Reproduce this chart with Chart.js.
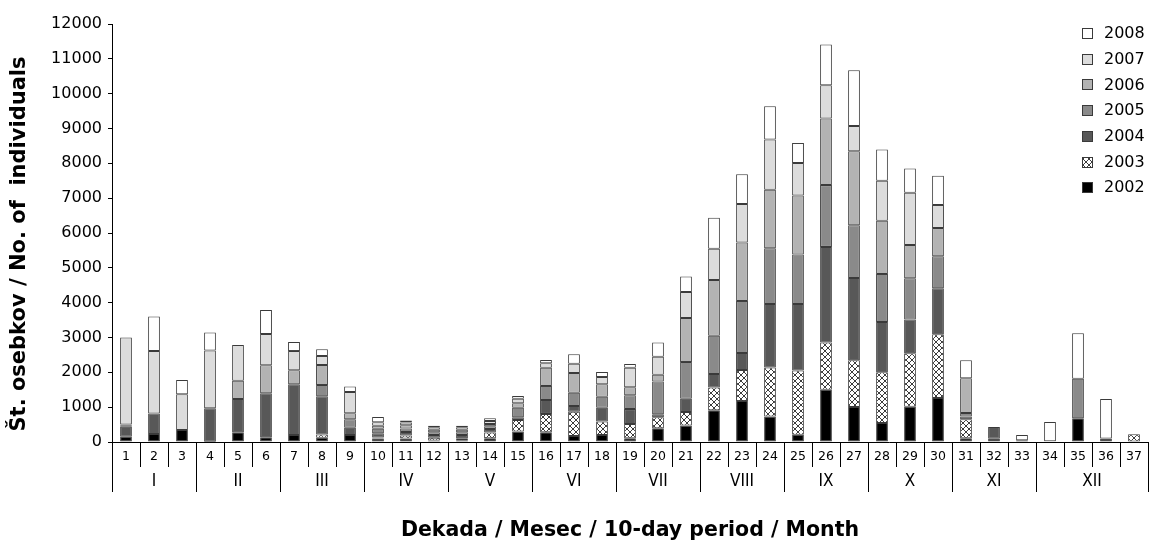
<!DOCTYPE html>
<html><head><meta charset="utf-8">
<script src="https://cdn.jsdelivr.net/npm/chart.js@4.4.1/dist/chart.umd.min.js"></script>
<style>html,body{margin:0;padding:0;background:#fff;} #wrap{width:1149px;height:548px;position:relative;}</style>
</head><body><div id="wrap"><canvas id="c" width="1149" height="548"></canvas></div>
<script>
const decades = ['1','2','3','4','5','6','7','8','9','10','11','12','13','14','15','16','17','18','19','20','21','22','23','24','25','26','27','28','29','30','31','32','33','34','35','36','37'];
const months = ['I','II','III','IV','V','VI','VII','VIII','IX','X','XI','XII'];
const monthSpans = [3,3,3,3,3,3,3,3,3,3,3,4];
const years = ['2002','2003','2004','2005','2006','2007','2008'];
const v2002 = [150,230,345,10,280,135,200,125,200,100,100,40,50,105,300,280,170,200,105,395,475,915,1175,735,210,1500,1005,545,1015,1260,105,90,50,20,680,100,0];
const v2003 = [0,0,0,0,0,0,0,90,0,30,90,80,60,165,330,525,700,385,410,315,385,650,890,1405,1845,1360,1340,1455,1530,1830,545,0,0,0,0,0,220];
const v2004 = [290,590,0,960,955,1265,1455,1095,210,120,100,80,90,100,80,400,165,400,430,85,380,385,490,1820,1905,2740,2360,1445,975,1325,85,340,0,0,0,0,0];
const v2005 = [30,0,0,0,0,0,0,325,240,130,100,80,80,80,275,405,380,315,395,945,1055,1100,1495,1600,1425,1775,1515,1380,1180,915,95,0,0,0,1135,0,0];
const v2006 = [30,0,0,0,525,800,405,575,175,90,90,70,70,70,125,525,565,355,230,190,1265,1600,1675,1680,1695,1915,2125,1530,955,815,1000,0,0,0,0,0,0];
const v2007 = [2500,1790,1025,1660,1025,900,550,260,610,100,80,70,70,80,135,125,270,210,565,520,745,900,1110,1445,930,955,730,1145,1500,660,0,0,0,0,0,0,0];
const v2008 = [0,990,410,510,0,690,260,190,155,150,60,50,50,80,75,95,270,145,105,410,445,890,855,955,575,1165,1595,895,695,840,515,0,150,555,1305,1135,0];
const yTicks = [0,1000,2000,3000,4000,5000,6000,7000,8000,9000,10000,11000,12000];
const yTitle = 'Št. osebkov / No. of  individuals';
const xTitle = 'Dekada / Mesec / 10-day period / Month';

function hatch(){
  const c=document.createElement('canvas'); c.width=6; c.height=6;
  const g=c.getContext('2d');
  g.fillStyle='#fff'; g.fillRect(0,0,6,6);
  g.strokeStyle='#3c3c3c'; g.lineWidth=1;
  g.beginPath(); g.moveTo(-1,-1); g.lineTo(7,7); g.moveTo(7,-1); g.lineTo(-1,7); g.stroke();
  return g.createPattern(c,'repeat');
}
const hatchPat = hatch();
const seriesVals = [v2002,v2003,v2004,v2005,v2006,v2007,v2008];
const fills = ['#000000', hatchPat, '#585858', '#8a8a8a', '#b3b3b3', '#dcdcdc', '#ffffff'];

const datasets = years.map((y,i)=>({
  label: y, data: seriesVals[i], backgroundColor: fills[i],
  borderColor: '#3a3a3a', borderWidth: 1, borderSkipped: false,
  barPercentage: 0.42, categoryPercentage: 1.0, stack: 's'
}));

const FONT = "'DejaVu Sans', Verdana, sans-serif";
const FONT_C = "'DejaVu Sans Condensed', 'DejaVu Sans', sans-serif";

const extras = {
  id: 'extras',
  afterDraw(chart){
    const ctx = chart.ctx, xs = chart.scales.x;
    const half = (xs.getPixelForValue(1) - xs.getPixelForValue(0))/2;
    const top = xs.top;
    ctx.save();
    ctx.strokeStyle = '#000'; ctx.lineWidth = 1;
    ctx.fillStyle = '#000';
    ctx.font = "17px " + FONT_C;
    ctx.textAlign = 'center'; ctx.textBaseline = 'middle';
    let idx = 0;
    const drawSep = (x)=>{ ctx.beginPath(); ctx.moveTo(Math.round(x)+0.5, top); ctx.lineTo(Math.round(x)+0.5, top+50); ctx.stroke(); };
    drawSep(xs.getPixelForValue(0)-half);
    months.forEach((m,k)=>{
      const a = idx, b = idx + monthSpans[k] - 1;
      const xa = xs.getPixelForValue(a), xb = xs.getPixelForValue(b);
      ctx.fillText(m, (xa+xb)/2, top + 40);
      drawSep(xb + half);
      idx = b + 1;
    });
    // y title
    ctx.save();
    ctx.translate(20, 244);
    ctx.rotate(-Math.PI/2);
    ctx.font = "bold 21px " + FONT;
    ctx.fillText(yTitle, 0, 0);
    ctx.restore();
    // legend
    ctx.font = "16px " + FONT;
    ctx.textAlign = 'left';
    const ds = chart.data.datasets;
    for (let i = ds.length-1, row = 0; i >= 0; i--, row++){
      const cy = 33 + row*25.7;
      ctx.fillStyle = ds[i].backgroundColor;
      ctx.fillRect(1082, Math.round(cy)-5, 11, 11);
      ctx.strokeStyle = '#3a3a3a';
      ctx.strokeRect(1082.5, Math.round(cy)-4.5, 10, 10);
      ctx.fillStyle = '#000';
      ctx.fillText(ds[i].label, 1104, cy+1);
    }
    ctx.restore();
  }
};

new Chart(document.getElementById('c'), {
  type: 'bar',
  data: { labels: decades, datasets },
  options: {
    responsive: false, animation: false,
    layout: { padding: { top: 24, right: 1, left: 0, bottom: 0 } },
    plugins: { legend: { display: false }, tooltip: { enabled: false } },
    scales: {
      x: {
        stacked: true, offset: true,
        grid: { offset: true, drawOnChartArea: false, tickLength: 25, color: '#000', tickColor: '#000', lineWidth: 1 },
        border: { color: '#000', width: 1 },
        ticks: { font: { family: FONT, size: 12.5 }, color: '#000', padding: -18, maxRotation: 0, autoSkip: false },
        title: { display: true, text: xTitle, font: { family: FONT, size: 20.5, weight: 'bold' }, color: '#000', padding: { top: 5, bottom: 5 } },
        afterFit(s){ s.height = 106; }
      },
      y: {
        stacked: true, min: 0, max: 12000,
        afterBuildTicks(s){ s.ticks = yTicks.map(v=>({value:v})); },
        grid: { drawOnChartArea: false, tickLength: 4, color: '#000', tickColor: '#000' },
        border: { color: '#000', width: 1 },
        ticks: { font: { family: FONT, size: 16 }, color: '#000', padding: 6, callback: v => String(v) },
        title: { display: false },
        afterFit(s){ s.width = 112; }
      }
    }
  },
  plugins: [extras]
});
</script></body></html>
